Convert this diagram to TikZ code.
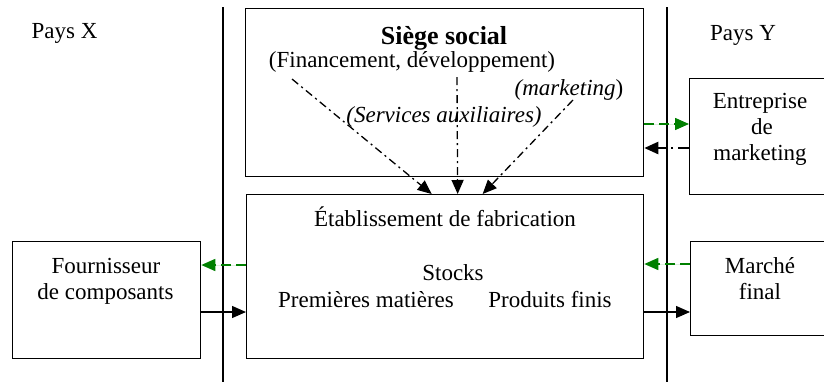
\documentclass[tikz,border=0pt]{standalone}
\usepackage{fontspec}
\setmainfont{Liberation Serif}
\usetikzlibrary{arrows.meta}
\definecolor{flowgreen}{RGB}{0,128,0}
\begin{document}
\begin{tikzpicture}[x=1pt,y=-1pt,
  box/.style={draw, line width=1.3pt, inner sep=0pt, anchor=north west},
  lbl/.style={inner sep=0pt, anchor=base, font=\fontsize{23}{26}\selectfont},
  border/.style={line width=1.5pt},
  tip/.style={-{Triangle[length=14pt,width=12pt]}},
  greenflow/.style={tip, draw=flowgreen, fill=flowgreen, line width=1.5pt, dash pattern=on 10pt off 5pt},
  blackdash/.style={tip, line width=2.4pt, dash pattern=on 11pt off 5pt on 2pt off 5pt},
  solidflow/.style={tip, line width=1.3pt},
  dashdot/.style={tip, line width=1.3pt, dash pattern=on 8pt off 4pt on 2pt off 4pt}]
\useasboundingbox (0,0) rectangle (824,381);
\clip (0,0) rectangle (824,381);

% country borders
\coordinate (bxTop) at (223,7);
\coordinate (bxBot) at (223,385);
\coordinate (byTop) at (667,7);
\coordinate (byBot) at (667,385);
\draw[border] (bxTop) -- (bxBot);
\draw[border] (byTop) -- (byBot);

\node[lbl] (paysx) at (64.5,38) {Pays X};
\node[lbl] (paysy) at (743,40) {Pays Y};

% boxes
\node[box, minimum width=398pt, minimum height=168pt] (siege) at (245,8) {};
\node[box, minimum width=397pt, minimum height=164pt] (etab) at (246,194) {};
\node[box, minimum width=188pt, minimum height=117pt] (four) at (12,241) {};
\node[box, minimum width=160pt, minimum height=116pt] (entr) at (689,78) {};
\node[box, minimum width=160pt, minimum height=94pt] (marche) at (690,241) {};

% head office texts
\node[lbl, font=\fontsize{26}{30}\selectfont\bfseries] (siegeT) at (444,44) {Siège social};
\node[lbl] (finT) at (412,67) {(Financement, développement)};
\node[lbl] (mktT) at (569,95) {\itshape(marketing\/\upshape)};
\node[lbl] (servT) at (444,122) {\itshape(Services auxiliaires)};

% plant texts
\node[lbl] (etabT) at (445,226) {Établissement de fabrication};
\node[lbl] (stockT) at (453,280) {Stocks};
\node[lbl] (premT) at (366,307) {Premières matières};
\node[lbl] (prodT) at (550,307) {Produits finis};

% side boxes texts
\node[lbl] (entrA) at (760,108) {Entreprise};
\node[lbl] (entrB) at (762,134) {de};
\node[lbl] (entrC) at (760,160) {marketing};
\node[lbl] (marA) at (760,273) {Marché};
\node[lbl] (marB) at (760,299) {final};
\node[lbl] (fouA) at (106,273) {Fournisseur};
\node[lbl] (fouB) at (105.5,299) {de composants};

% flows from head office to plant
\coordinate (s1) at (292,79);
\coordinate (s2) at (457,77);
\coordinate (s3) at (573,100);
\draw[dashdot] (s1) -- ([xshift=-13.5pt]etab.north);
\draw[dashdot] (s2) -- ([xshift=12.5pt]etab.north);
\draw[dashdot] (s3) -- ([xshift=37.5pt]etab.north);

% rows of horizontal flows
\coordinate (rowA) at (0,124);
\coordinate (rowB) at (0,148);
\coordinate (rowC) at (0,265);
\coordinate (rowD) at (0,264);
\coordinate (rowE) at (0,312);

\draw[greenflow] (siege.east |- rowA) -- (entr.west |- rowA);
\draw[blackdash] (entr.west |- rowB) -- (siege.east |- rowB);
\draw[greenflow] (etab.west |- rowC) -- (four.east |- rowC);
\draw[greenflow] (marche.west |- rowD) -- (etab.east |- rowD);
\draw[solidflow] (four.east |- rowE) -- (etab.west |- rowE);
\draw[solidflow] (etab.east |- rowE) -- (marche.west |- rowE);
\end{tikzpicture}
\end{document}
